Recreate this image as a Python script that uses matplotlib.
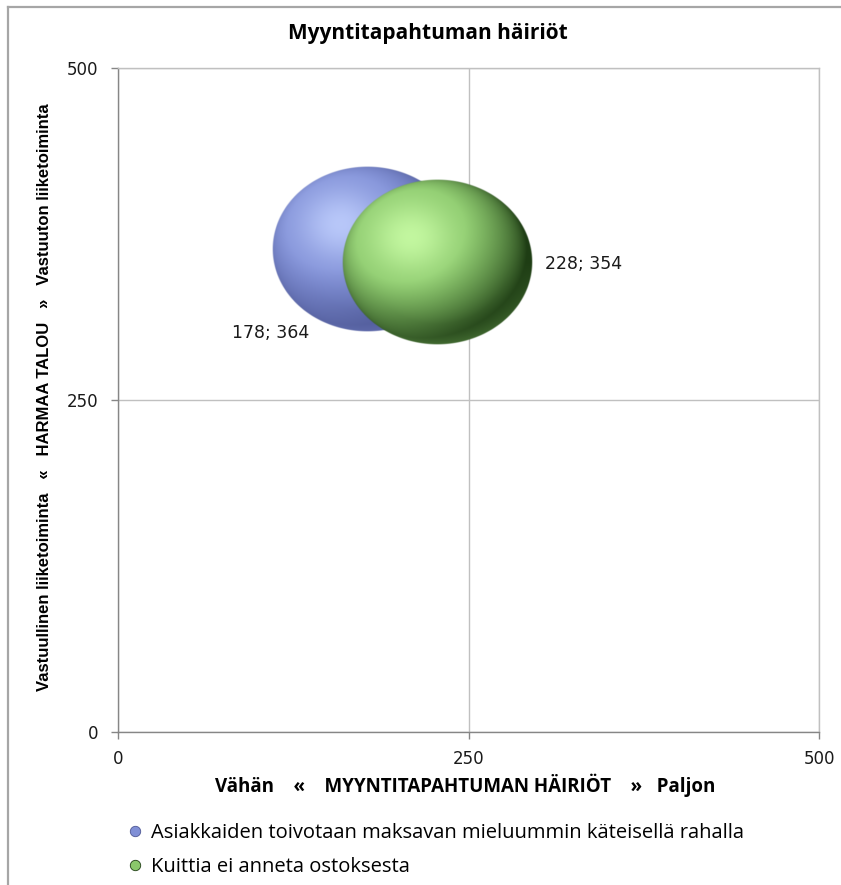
import numpy as np
import matplotlib
matplotlib.use("Agg")
import matplotlib.pyplot as plt
from matplotlib.lines import Line2D

# Data
series_names = [
    "Asiakkaiden toivotaan maksavan mieluummin käteisellä rahalla",
    "Kuittia ei anneta ostoksesta",
]
x_vals = [178, 228]
y_vals = [364, 354]
bubble_sizes = [1.0, 1.0]
ticks = [0, 250, 500]

base_colors = [(0.50, 0.56, 0.84), (0.54, 0.78, 0.42)]
light_colors = [(0.76, 0.82, 1.00), (0.80, 1.00, 0.66)]
dark_colors = [(0.30, 0.34, 0.58), (0.12, 0.24, 0.08)]

TITLE_FONT = ["Open Sans", "DejaVu Sans"]
NARROW_FONT = ["Liberation Sans", "DejaVu Sans"]

W, H = 841, 885
fig = plt.figure(figsize=(W / 100, H / 100), dpi=100)
ax = fig.add_axes([118 / W, 153 / H, 701 / W, 664 / H])
ax.set_xlim(0, 500)
ax.set_ylim(0, 500)


def sphere_image(base, light, dark, n=360):
    """RGBA array of a shaded sphere seen head on."""
    u = np.linspace(-1, 1, n)
    uu, vv = np.meshgrid(u, u[::-1])
    r2 = uu ** 2 + vv ** 2
    z = np.sqrt(np.clip(1 - r2, 0, 1))
    L = np.array([-0.35, 0.40, 0.85])
    L = L / np.linalg.norm(L)
    d = np.clip(uu * L[0] + vv * L[1] + z * L[2], 0, 1)
    base = np.array(base)
    light = np.array(light)
    dark = np.array(dark)
    t = d[..., None]
    rgb = dark + (base - dark) * np.clip(t * 1.25, 0, 1)
    glow = np.exp(-((uu + 0.28) ** 2 + (vv - 0.30) ** 2) / 0.22)[..., None]
    rgb = rgb + (light - rgb) * glow * 0.85
    # faint reflected light along the lower rim
    rim = (np.clip(-vv, 0, 1) * np.clip(np.sqrt(r2) - 0.75, 0, 1) * 2.2)[..., None]
    rgb = rgb + (base - rgb) * rim * 0.6
    alpha = np.clip((1 - np.sqrt(r2)) * n / 4, 0, 1)
    return np.dstack([np.clip(rgb, 0, 1), alpha])


# bubble extent in axes fraction for the largest size
max_w, max_h = 0.272, 0.250
for i in range(len(x_vals)):
    s = np.sqrt(bubble_sizes[i] / max(bubble_sizes))
    half_w = max_w * s * 500 / 2
    half_h = max_h * s * 500 / 2
    img = sphere_image(base_colors[i], light_colors[i], dark_colors[i])
    ax.imshow(img, extent=[x_vals[i] - half_w, x_vals[i] + half_w,
                           y_vals[i] - half_h, y_vals[i] + half_h],
              interpolation="bilinear", zorder=3 + i, aspect="auto")

ax.set_xlim(0, 500)
ax.set_ylim(0, 500)

# data labels
label_offsets = [(-70, -61, "center"), (77, -1.5, "left")]
for i in range(len(x_vals)):
    dx, dy, ha = label_offsets[i]
    ax.annotate(f"{x_vals[i]}; {y_vals[i]}", (x_vals[i], y_vals[i]),
                xytext=(dx, dy), textcoords="offset points",
                ha=ha, va="center", fontsize=12.5, color="#1a1a1a",
                family="DejaVu Sans", zorder=10)

# axes styling
ax.set_xticks(ticks)
ax.set_yticks(ticks)
ax.grid(True, color="#c0c0c0", linewidth=1.0, zorder=0)
ax.set_axisbelow(True)
for side in ["top", "right"]:
    ax.spines[side].set_color("#c0c0c0")
    ax.spines[side].set_linewidth(1.0)
for side in ["left", "bottom"]:
    ax.spines[side].set_color("#868686")
    ax.spines[side].set_linewidth(1.0)
ax.tick_params(axis="both", direction="out", length=5, width=1.0,
               color="#868686", labelsize=12, labelcolor="#1a1a1a")
ax.tick_params(axis="x", pad=8)
ax.tick_params(axis="y", pad=9)
for lab in ax.get_xticklabels() + ax.get_yticklabels():
    lab.set_family("DejaVu Sans")

fig.text(428 / W, 1 - 33 / H, "Myyntitapahtuman häiriöt", ha="center",
         va="center", fontsize=15, fontweight="bold", family=TITLE_FONT)
fig.text(465 / W, 1 - 785 / H,
         "Vähän    «    MYYNTITAPAHTUMAN HÄIRIÖT    »   Paljon",
         ha="center", va="center", fontsize=13.5, fontweight="bold",
         family=TITLE_FONT)
fig.text(45 / W, 1 - 397 / H,
         "Vastuullinen liiketoiminta   «   HARMAA TALOU   »   Vastuuton liiketoiminta",
         ha="center", va="center", rotation=90, fontsize=12,
         fontweight="bold", family=NARROW_FONT)

# legend
handles = [Line2D([], [], marker="o", ls="", markersize=7.5,
                  markerfacecolor=base_colors[i], markeredgecolor=dark_colors[i],
                  markeredgewidth=0.6) for i in range(len(series_names))]
fig.legend(handles, series_names, loc="upper left",
           bbox_to_anchor=(107 / W, 1 - 805 / H), frameon=False,
           handletextpad=0.3, handlelength=1.0, labelspacing=0.69,
           prop={"family": TITLE_FONT, "size": 14.5})

# chart frame
fig.add_artist(Line2D([8 / W, 8 / W], [0, 1 - 7 / H], transform=fig.transFigure,
                      color="#a6a6a6", linewidth=1.6))
fig.add_artist(Line2D([8 / W, 1], [1 - 7 / H, 1 - 7 / H], transform=fig.transFigure,
                      color="#a6a6a6", linewidth=1.6))

fig.savefig("out.png", dpi=100)
